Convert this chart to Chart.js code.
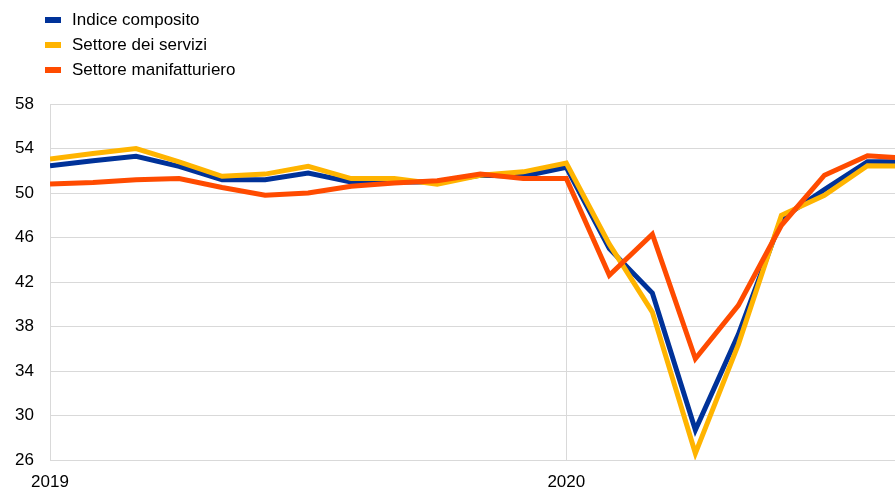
<!DOCTYPE html>
<html>
<head>
<meta charset="utf-8">
<script src="https://cdn.jsdelivr.net/npm/chart.js@4"></script>
<style>
    html, body { margin: 0; padding: 0; background: #fff; }
    #wrap { position: relative; width: 895px; height: 488px; }
    #legend { position: absolute; left: 45px; top: 7px; font-family: "Liberation Sans", Arial, sans-serif; font-size: 17px; color: #000; }
    #legend div { height: 25px; line-height: 25px; white-space: nowrap; }
    #legend span { display: inline-block; width: 16px; height: 6px; margin-right: 11px; vertical-align: middle; position: relative; top: -1px; }
</style>
</head>
<body>
<div id="wrap">
    <canvas id="pmiChart" width="895" height="488"></canvas>
    <div id="legend"></div>
</div>
<script>
// monthly observations, Jan 2019 onwards
const months = ['2019-01', '2019-02', '2019-03', '2019-04', '2019-05', '2019-06', '2019-07',
    '2019-08', '2019-09', '2019-10', '2019-11', '2019-12', '2020-01', '2020-02', '2020-03',
    '2020-04', '2020-05', '2020-06', '2020-07', '2020-08', '2020-09'];
const composite = [52.45, 52.9, 53.3, 52.4, 51.2, 51.2, 51.8, 51.0, 51.0, 51.0, 51.6, 51.5,
    52.3, 45.0, 41.0, 28.7, 37.3, 47.7, 50.3, 52.8, 52.8];
const services = [53.05, 53.55, 54.0, 52.8, 51.5, 51.7, 52.4, 51.3, 51.3, 50.8, 51.6, 51.9,
    52.7, 45.4, 39.3, 26.6, 36.4, 48.0, 49.8, 52.45, 52.4];
const manufacturing = [50.8, 50.95, 51.2, 51.3, 50.5, 49.8, 50.0, 50.6, 50.9, 51.1, 51.7, 51.3,
    51.3, 42.6, 46.3, 35.1, 39.9, 47.1, 51.6, 53.35, 53.1];
const yearTicks = ['2019', '2020'];
const seriesNames = ['Indice composito', 'Settore dei servizi', 'Settore manifatturiero'];
const colors = ['#003299', '#ffb400', '#ff4b00'];

const toPoints = arr => arr.map((v, i) => ({ x: i, y: v }));

// legend as plain html, stacked like the original
const legendEl = document.getElementById('legend');
seriesNames.forEach((name, i) => {
    const row = document.createElement('div');
    row.innerHTML = '<span style="background:' + colors[i] + '"></span>' + name;
    legendEl.appendChild(row);
});

const font = { family: '"Liberation Sans", Arial, sans-serif', size: 17 };

const ctx = document.getElementById('pmiChart').getContext('2d');
new Chart(ctx, {
    type: 'line',
    data: {
        datasets: [
            { label: seriesNames[0], data: toPoints(composite), borderColor: colors[0], order: 3 },
            { label: seriesNames[1], data: toPoints(services), borderColor: colors[1], order: 2 },
            { label: seriesNames[2], data: toPoints(manufacturing), borderColor: colors[2], order: 1 }
        ]
    },
    options: {
        responsive: false,
        animation: false,
        layout: { padding: { top: 104, right: 0, left: 0, bottom: 0 } },
        elements: {
            line: { borderWidth: 5, tension: 0, fill: false },
            point: { radius: 0 }
        },
        plugins: {
            legend: { display: false },
            tooltip: { enabled: false }
        },
        scales: {
            x: {
                type: 'linear',
                min: 0,
                max: 19.64,
                afterBuildTicks: axis => {
                    axis.ticks = yearTicks.map((t, i) => ({ value: i * 12 }));
                },
                afterFit: axis => { axis.height = 28; },
                ticks: {
                    callback: (value) => yearTicks[value / 12],
                    color: '#000',
                    font: font,
                    maxRotation: 0,
                    padding: 12
                },
                grid: { color: '#d9d9d9', drawTicks: false, lineWidth: 1 },
                border: { color: '#d9d9d9' }
            },
            y: {
                min: 26,
                max: 58,
                afterFit: axis => { axis.width = 50; },
                ticks: {
                    stepSize: 4,
                    color: '#000',
                    font: font,
                    padding: 16
                },
                grid: { color: '#d9d9d9', drawTicks: false, lineWidth: 1 },
                border: { color: '#d9d9d9' }
            }
        }
    }
});
</script>
</body>
</html>
